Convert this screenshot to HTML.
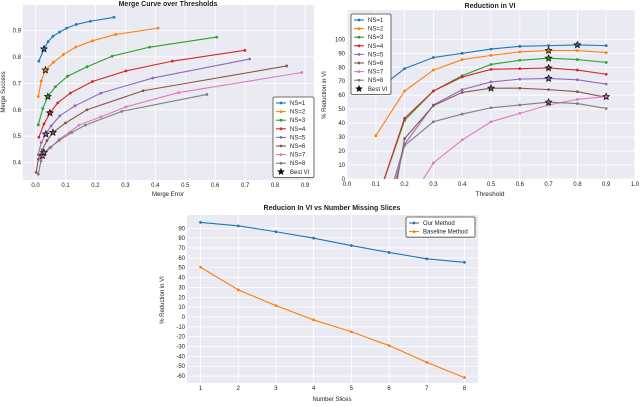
<!DOCTYPE html>
<html><head><meta charset="utf-8"><style>
body{margin:0;background:#fff;width:640px;height:402px;overflow:hidden}
svg{font-family:"Liberation Sans",sans-serif}
</style></head><body>
<svg id="s" width="640" height="402"></svg>
<script>
const colors=['#1f77b4','#ff7f0e','#2ca02c','#d62728','#9467bd','#8c564b','#e377c2','#7f7f7f'];
const nsLabels=['NS=1','NS=2','NS=3','NS=4','NS=5','NS=6','NS=7','NS=8'];
// Chart 1: merge error (x) / merge success (y)
const mErrX=[
[0.011,0.028,0.042,0.058,0.08,0.104,0.136,0.183,0.262],
[0.009,0.019,0.033,0.06,0.093,0.134,0.19,0.268,0.409],
[0.009,0.024,0.041,0.066,0.107,0.172,0.256,0.381,0.605],
[0.011,0.028,0.048,0.074,0.116,0.19,0.302,0.457,0.699],
[0.009,0.019,0.034,0.052,0.081,0.132,0.218,0.391,0.715],
[0.002,0.009,0.022,0.038,0.058,0.1,0.172,0.359,0.839],
[0.017,0.023,0.052,0.079,0.112,0.145,0.218,0.302,0.478,0.889],
[0.009,0.018,0.028,0.048,0.079,0.121,0.166,0.288,0.572]];
const mSuccY=[
[0.784,0.83,0.858,0.878,0.894,0.909,0.923,0.935,0.95],
[0.65,0.709,0.75,0.78,0.809,0.837,0.861,0.885,0.909],
[0.543,0.605,0.65,0.687,0.727,0.763,0.803,0.837,0.875],
[0.496,0.546,0.588,0.626,0.663,0.707,0.747,0.784,0.825],
[0.43,0.476,0.508,0.539,0.577,0.615,0.663,0.72,0.792],
[0.363,0.413,0.448,0.483,0.514,0.55,0.6,0.672,0.766],
[0.413,0.426,0.458,0.489,0.514,0.542,0.573,0.611,0.665,0.741],
[0.356,0.406,0.438,0.457,0.484,0.514,0.542,0.594,0.658]];
const mStarIdx=[1,2,2,2,2,4,1,2];
const c1XTicks=[0,0.1,0.2,0.3,0.4,0.5,0.6,0.7,0.8,0.9];
const c1YTicks=[0.4,0.5,0.6,0.7,0.8,0.9];
// Chart 2: thresholds / reduction in VI
const thresholds=[0.1,0.2,0.3,0.4,0.5,0.6,0.7,0.8,0.9];
const viRed=[
[63,79,87,90,93,95,95.5,96,95.5],
[31,63,78,85.5,88.5,91,92,92,90.5],
[-18,42,63,74,82,85,86.5,85.5,83.5],
[-18,43.5,63,73,78.5,79,79.5,78,75],
[-46,25,53,64,69.5,71.5,72,71,68],
[-85,29,52.5,62,65,65,64,62.5,58.5],
[-55,-21.5,11.5,28,41,47,53,57,59],
[-56,24,41,46.5,51,53,55,54,50.5]];
const viStarIdx=[7,6,6,6,6,4,8,6];
const c2XTicks=[0,0.1,0.2,0.3,0.4,0.5,0.6,0.7,0.8,0.9,1.0];
const c2YTicks=[0,10,20,30,40,50,60,70,80,90,100];
// Chart 3
const slices=[1,2,3,4,5,6,7,8];
const ourMethod=[96,92.5,86.5,80,72.5,65.5,59,55.5];
const baseline=[50.5,27.5,11.5,-3,-15,-29,-46,-61.5];
const c3YTicks=[-60,-50,-40,-30,-20,-10,0,10,20,30,40,50,60,70,80,90];

const S=document.getElementById('s');const NS='http://www.w3.org/2000/svg';
function el(t,a,p){const e=document.createElementNS(NS,t);for(const k in a)e.setAttribute(k,a[k]);(p||S).appendChild(e);return e;}
function txt(x,y,s,o,p){o=o||{};const e=el('text',Object.assign({x:x,y:y,'font-size':o.fs||6,fill:'#222','text-anchor':o.a||'middle'},o.attr||{}),p);e.textContent=s;return e;}
function star(g,x,y,r,fill){let pts=[];for(let i=0;i<10;i++){const rr=i%2?r*0.45:r;const a=-Math.PI/2+i*Math.PI/5;pts.push((x+rr*Math.cos(a)).toFixed(1)+','+(y+rr*Math.sin(a)).toFixed(1));}return el('polygon',{points:pts.join(' '),fill:fill,stroke:'#111','stroke-width':0.8},g);}
function axes(name,L,R,T,B,xr,yr,xt,yt,fmtX,fmtY){
 const g=el('g',{});
 const sx=v=>L+(v-xr[0])/(xr[1]-xr[0])*(R-L);const sy=v=>B-(v-yr[0])/(yr[1]-yr[0])*(B-T);
 const bg=el('rect',{x:L,y:T,width:R-L,height:B-T,fill:'#eaeaf2'},g);
 xt.forEach(v=>{el('line',{x1:sx(v),x2:sx(v),y1:T,y2:B,stroke:'#fff','stroke-width':0.8},g);const t=txt(sx(v),B+7,fmtX(v),{},g);});
 yt.forEach(v=>{el('line',{x1:L,x2:R,y1:sy(v),y2:sy(v),stroke:'#fff','stroke-width':0.8},g);const t=txt(L-2,sy(v)+2,fmtY(v),{a:'end'},g);});
 const cp=el('clipPath',{id:name+'-clip'},g);el('rect',{x:L,y:T,width:R-L,height:B-T},cp);
 const d=el('g',{'clip-path':'url(#'+name+'-clip)'},g);
 return {g,d,sx,sy};
}
function series(ax,xs,ys,color,name){
 const pts=xs.map((x,i)=>ax.sx(x)+','+ax.sy(ys[i])).join(' ');
 const l=el('polyline',{points:pts,fill:'none',stroke:color,'stroke-width':1.1},ax.d);
 xs.forEach((x,i)=>{const c=el('circle',{cx:ax.sx(x),cy:ax.sy(ys[i]),r:1.4,fill:color},ax.d);});
}
function legend(x,y,w,items,name){
 const g=el('g',{});
 el('rect',{x:x,y:y,width:w,height:items.length*8.6+3,fill:'#fff',stroke:'#444','stroke-width':0.8,rx:1.5},g);
 items.forEach((it,i)=>{const yy=y+6+i*8.6;
  if(it.star){star(g,x+8,yy,3,'#111');}else{el('line',{x1:x+3,x2:x+13,y1:yy,y2:yy,stroke:it.c,'stroke-width':1.1},g);el('circle',{cx:x+8,cy:yy,r:1.4,fill:it.c},g);}
  const t=txt(x+17,yy+2,it.t,{a:'start'},g);});
}
// Chart 1
const a1=axes('merge-curve-chart',23,314,5,180,[-0.042,0.93],[0.3342,0.9965],c1XTicks,c1YTicks,v=>v.toFixed(1),v=>v.toFixed(1));
mErrX.forEach((xs,i)=>series(a1,xs,mSuccY[i],colors[i],'merge-ns'+(i+1)));
mErrX.forEach((xs,i)=>{const k=mStarIdx[i];const s=star(a1.d,a1.sx(xs[k]),a1.sy(mSuccY[i][k]),3.3,colors[i]);});
let t=txt(168,6,'Merge Curve over Thresholds',{fs:7,attr:{'font-weight':'bold'}});
t=txt(168,196,'Merge Error',{});
t=txt(5,92,'Merge Success',{attr:{transform:'rotate(-90 5 92)'}});
legend(273,97,41,nsLabels.map((l,i)=>({t:l,c:colors[i]})).concat([{t:'Best VI',star:1}]),'legend-merge');
// Chart 2
const a2=axes('reduction-vi-chart',347,635,10,179,[0,1],[0,121],c2XTicks,c2YTicks,v=>v.toFixed(1),v=>String(v));
viRed.forEach((ys,i)=>series(a2,thresholds,ys,colors[i],'vi-ns'+(i+1)));
viRed.forEach((ys,i)=>{const k=viStarIdx[i];const s=star(a2.d,a2.sx(thresholds[k]),a2.sy(ys[k]),3.3,colors[i]);});
t=txt(490,8,'Reduction in VI',{fs:7,attr:{'font-weight':'bold'}});
t=txt(490,196,'Threshold',{fs:6.5});
t=txt(326,95,'% Reduction in VI',{attr:{transform:'rotate(-90 326 95)'}});
legend(351,14,40,nsLabels.map((l,i)=>({t:l,c:colors[i]})).concat([{t:'Best VI',star:1}]),'legend-vi');
// Chart 3
const a3=axes('missing-slices-chart',187,478,215,383,[0.64,8.36],[-67,103.5],slices,c3YTicks,v=>String(v),v=>String(v));
series(a3,slices,ourMethod,colors[0],'our-method');
series(a3,slices,baseline,colors[1],'baseline-method');
t=txt(332,210,'Reducion In VI vs Number Missing Slices',{fs:7,attr:{'font-weight':'bold'}});
t=txt(332,401,'Number Slices',{});
t=txt(164,300,'% Reduction in VI',{attr:{transform:'rotate(-90 164 300)'}});
legend(406,217,69,[{t:'Our Method',c:colors[0]},{t:'Baseline Method',c:colors[1]}],'legend-slices');
</script>
</body></html>
